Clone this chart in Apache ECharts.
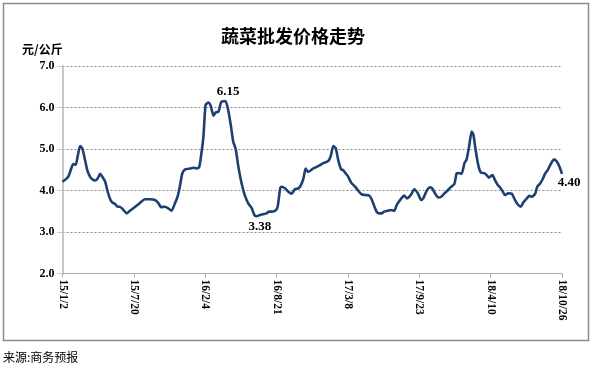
<!DOCTYPE html>
<html>
<head>
<meta charset="utf-8">
<script src="https://cdn.jsdelivr.net/npm/echarts@6/dist/echarts.min.js"></script>
<style>
html,body{margin:0;padding:0;background:#fff;}
#c{width:594px;height:370px;}
</style>
</head>
<body>
<div id="c"></div>
<script>
// x tick labels (every 199 days from 2015-01-02)
const xLabels = ['15/1/2','15/7/20','16/2/4','16/8/21','17/3/8','17/9/23','18/4/10','18/10/26'];
const yTicks = [2, 3, 4, 5, 6, 7];
// days since 15/1/2
const days = [0,12,18,26,30,37,42,49,55,63,69,77,83,91,98,105,111,119,126,133,139,146,154,160,170,179,188,202,216,230,244,258,267,275,286,295,304,314,321,328,334,342,356,365,374,381,386,393,399,407,414,421,427,435,442,448,455,462,470,476,483,490,500,509,518,528,535,542,551,560,569,576,583,593,600,607,611,621,630,639,648,658,665,672,678,684,690,699,709,718,727,737,743,749,755,762,769,777,783,790,797,805,814,820,827,834,844,855,862,870,876,883,890,897,907,916,925,932,938,948,953,960,967,974,981,991,1000,1006,1016,1025,1031,1039,1048,1056,1065,1074,1083,1093,1099,1106,1113,1121,1127,1134,1141,1146,1152,1160,1167,1176,1183,1189,1199,1206,1214,1220,1228,1234,1243,1253,1262,1271,1278,1285,1295,1302,1309,1318,1324,1332,1340,1346,1353,1360,1365,1371,1379,1386,1393];
// price, yuan/kg
const prices = [4.21,4.29,4.37,4.57,4.64,4.62,4.81,5.07,5.02,4.73,4.49,4.33,4.27,4.24,4.29,4.40,4.33,4.21,3.97,3.79,3.71,3.68,3.61,3.61,3.53,3.45,3.51,3.60,3.70,3.79,3.79,3.77,3.70,3.60,3.61,3.57,3.51,3.70,3.85,4.13,4.41,4.51,4.53,4.55,4.53,4.56,4.81,5.30,6.06,6.12,6.02,5.80,5.88,5.90,6.12,6.15,6.15,5.94,5.54,5.18,5.00,4.60,4.15,3.87,3.69,3.57,3.41,3.38,3.41,3.43,3.45,3.49,3.49,3.51,3.61,4.05,4.09,4.05,3.97,3.92,4.03,4.05,4.13,4.29,4.53,4.45,4.47,4.53,4.57,4.61,4.66,4.69,4.73,4.86,5.07,5.02,4.73,4.51,4.49,4.41,4.33,4.19,4.11,4.05,3.97,3.91,3.89,3.88,3.79,3.61,3.49,3.45,3.45,3.49,3.51,3.53,3.51,3.65,3.73,3.84,3.88,3.81,3.85,3.93,4.03,3.93,3.77,3.81,4.00,4.08,4.05,3.93,3.83,3.85,3.93,4.00,4.08,4.16,4.41,4.42,4.40,4.66,4.75,5.06,5.42,5.34,4.98,4.59,4.43,4.42,4.37,4.31,4.37,4.25,4.13,4.08,3.97,3.89,3.93,3.92,3.77,3.65,3.61,3.71,3.81,3.87,3.85,3.92,4.09,4.17,4.29,4.41,4.49,4.61,4.69,4.75,4.69,4.57,4.40];

const serif = "'Liberation Serif','Times New Roman',serif";
const cjk = "'Noto Sans CJK SC','Noto Sans',sans-serif";
const step = 199;
const lastIdx = prices.length - 1;
const lbl = (off) => ({
  show: true, position: 'inside', offset: off,
  fontFamily: serif, fontWeight: 'bold', fontSize: 13, color: '#000',
  formatter: p => Number(p.value).toFixed(2)
});

const chart = echarts.init(document.getElementById('c'), null, {renderer: 'canvas'});
chart.setOption({
  animation: false,
  backgroundColor: '#fff',
  grid: {left: 62.5, right: 32, top: 66, bottom: 96.5},
  graphic: [
    {type: 'rect', shape: {x: 3.5, y: 3.5, width: 585, height: 337}, style: {fill: 'none', stroke: '#8c8c8c', lineWidth: 1.5}, silent: true},
    {type: 'text', style: {x: 293, y: 36, text: '蔬菜批发价格走势', textAlign: 'center', textVerticalAlign: 'middle', font: "bold 18px " + cjk, fill: '#000'}},
    {type: 'text', style: {x: 22, y: 49, text: '元/公斤', textAlign: 'left', textVerticalAlign: 'middle', font: "bold 12px " + cjk, fill: '#000'}},
    {type: 'text', style: {x: 3, y: 357, text: '来源:商务预报', textAlign: 'left', textVerticalAlign: 'middle', font: "12px " + cjk, fill: '#000'}}
  ],
  xAxis: {
    type: 'value', min: 0, max: step * (xLabels.length - 1), interval: step,
    axisLine: {show: true, onZero: false, lineStyle: {color: '#b0b0b0', width: 1}},
    axisTick: {show: true, length: 4, lineStyle: {color: '#b0b0b0'}},
    splitLine: {show: false},
    axisLabel: {
      rotate: -90, margin: 6, fontFamily: serif, fontWeight: 'bold', fontSize: 11.5, color: '#000',
      formatter: v => xLabels[Math.round(v / step)] || ''
    }
  },
  yAxis: {
    type: 'value', min: yTicks[0], max: yTicks[yTicks.length - 1], interval: 1,
    axisLine: {show: true, lineStyle: {color: '#c8c8c8', width: 2}},
    axisTick: {show: true, length: 5, lineStyle: {color: '#999', type: 'dotted'}},
    splitLine: {show: true, lineStyle: {color: '#8a8a8a', type: [2, 2], width: 1}},
    axisLabel: {margin: 8, fontFamily: serif, fontWeight: 'bold', fontSize: 12, color: '#000', formatter: v => v.toFixed(1)}
  },
  series: [{
    type: 'line',
    data: days.map((d, i) => [d, prices[i]]),
    showSymbol: false,
    smooth: 0.2,
    lineStyle: {color: '#1d3f72', width: 2.6},
    itemStyle: {color: '#1d3f72'},
    markPoint: {
      symbol: 'circle', symbolSize: 1,
      itemStyle: {color: 'rgba(0,0,0,0)'},
      data: [
        {type: 'max', label: lbl([5, -10])},
        {type: 'min', label: lbl([3, 10])},
        {coord: [days[lastIdx], prices[lastIdx]], value: prices[lastIdx], label: lbl([7, 9])}
      ]
    }
  }]
});
</script>
</body>
</html>
